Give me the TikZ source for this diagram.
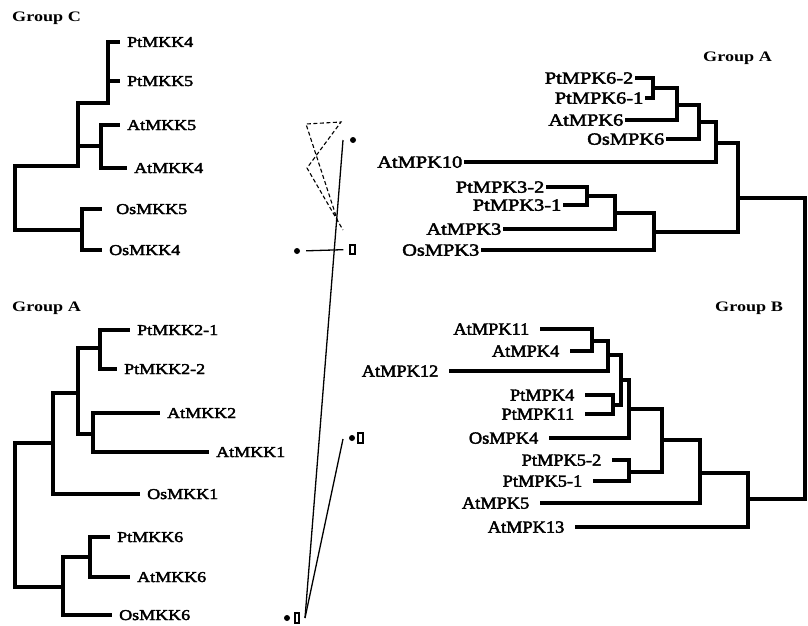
\documentclass[tikz,border=0pt]{standalone}
\usepackage{fontspec}
\setmainfont{Liberation Serif}
\newfontfamily\leaffont[FakeStretch=1.2, FakeBold=2.5]{Liberation Serif}
\newfontfamily\narrowfont[FakeStretch=1.08, FakeBold=2.5]{Liberation Serif}
\newfontfamily\groupfont[FakeStretch=1.25]{Liberation Serif}
\usetikzlibrary{positioning}

\tikzset{
  branch/.style = {draw, line width=3.2pt, line cap=rect},
  leafl/.style  = {anchor=west, inner xsep=9pt, inner ysep=0pt, text height=10pt, text depth=0pt,
                   font=\leaffont\fontsize{15}{15}\selectfont},
  leafr/.style  = {anchor=east, inner xsep=3.5pt, inner ysep=0pt, text height=11.3pt, text depth=0pt,
                   font=\leaffont\fontsize{17}{17}\selectfont},
  leafb/.style  = {anchor=east, inner xsep=12.5pt, inner ysep=0pt, text height=11.3pt, text depth=0pt,
                   font=\narrowfont\fontsize{17}{17}\selectfont},
  grp/.style    = {anchor=west, inner sep=0pt, font=\groupfont\bfseries\fontsize{14.5}{14.5}\selectfont},
  dot/.style    = {circle, fill, inner sep=0pt, minimum size=6pt},
  pbox/.style   = {draw, line width=1.9pt, inner sep=0pt, minimum width=4.5pt, minimum height=9.5pt},
  link/.style   = {line width=1.3pt}
}

\begin{document}
\begin{tikzpicture}[x=1pt, y=-1pt]
    \useasboundingbox (0,0) rectangle (808,626);

    \node (grpC) [grp] at (12,18) {Group C};
    \node (grpAl) [grp] at (12,308) {Group A};
    \node (grpAr) [grp] at (703,58) {Group A};
    \node (grpB) [grp] at (715,308) {Group B};

    \coordinate (cC0) at (15,166);
    \coordinate (cC1) at (78,103);
    \coordinate (cC2) at (108,64);
    \coordinate (cC3) at (101,146);
    \coordinate (cC4) at (82,230);
    \node (PtMKK4) [leafl] at (118,42) {PtMKK4};
    \node (PtMKK5) [leafl] at (118,81) {PtMKK5};
    \node (AtMKK5) [leafl] at (118,125) {AtMKK5};
    \node (AtMKK4) [leafl] at (125,168) {AtMKK4};
    \node (OsMKK5) [leafl, inner xsep=16pt] at (100,209) {OsMKK5};
    \node (OsMKK4) [leafl] at (100,250) {OsMKK4};

    \path[branch]
     (cC1) |- (cC0) |- (cC4)
     (cC2) |- (cC1) |- (cC3)
     (PtMKK4.west) -| (cC2) |- (PtMKK5.west)
     (AtMKK5.west) -| (cC3) |- (AtMKK4.west)
     (OsMKK5.west) -| (cC4) |- (OsMKK4.west);

    \coordinate (cA0) at (15,515);
    \coordinate (cA1) at (53,443);
    \coordinate (cA2) at (78,393);
    \coordinate (cA3) at (100,348);
    \coordinate (cA4) at (93,434);
    \coordinate (cA6) at (63,587);
    \coordinate (cA7) at (90,557);
    \node (PtMKK21) [leafl] at (128,330) {PtMKK2-1};
    \node (PtMKK22) [leafl] at (115,369) {PtMKK2-2};
    \node (AtMKK2) [leafl] at (158,413) {AtMKK2};
    \node (AtMKK1) [leafl] at (207,452) {AtMKK1};
    \node (OsMKK1) [leafl] at (138,494) {OsMKK1};
    \node (PtMKK6) [leafl] at (108,537) {PtMKK6};
    \node (AtMKK6) [leafl] at (128,577) {AtMKK6};
    \node (OsMKK6) [leafl] at (110,615) {OsMKK6};

    \path[branch]
     (cA1) -| (cA0) |- (cA6)
     (cA2) -| (cA1) |- (OsMKK1.west)
     (cA3) -| (cA2) |- (cA4)
     (PtMKK21.west) -| (cA3) |- (PtMKK22.west)
     (AtMKK2.west) -| (cA4) |- (AtMKK1.west)
     (cA7) -| (cA6) |- (OsMKK6.west)
     (PtMKK6.west) -| (cA7) |- (AtMKK6.west);

    \coordinate (R) at (805,348);
    \coordinate (gA) at (738,198);
    \coordinate (g1) at (716,143);
    \coordinate (g2) at (699,122);
    \coordinate (g3) at (677,105);
    \coordinate (g4) at (653,88);
    \coordinate (g6) at (654,232);
    \coordinate (g7) at (615,213);
    \coordinate (g8) at (587,196);
    \node (PtMPK62) [leafr] at (637,78) {PtMPK6-2};
    \node (PtMPK61) [leafr] at (647,98) {PtMPK6-1};
    \node (AtMPK6) [leafr] at (627,120) {AtMPK6};
    \node (OsMPK6) [leafr] at (668,139) {OsMPK6};
    \node (AtMPK10) [leafr] at (466,162) {AtMPK10};
    \node (PtMPK32) [leafr] at (548,187) {PtMPK3-2};
    \node (PtMPK31) [leafr] at (565,205) {PtMPK3-1};
    \node (AtMPK3) [leafr] at (505,229) {AtMPK3};
    \node (OsMPK3) [leafr] at (483,250) {OsMPK3};

    \coordinate (gB) at (748,499);
    \coordinate (b1) at (700,473);
    \coordinate (b2) at (662,440);
    \coordinate (b3) at (629,409);
    \coordinate (b4) at (621,380);
    \coordinate (b5) at (608,355);
    \coordinate (b6) at (613,405);
    \coordinate (b7) at (629,472);
    \coordinate (b8) at (592,341);
    \node (AtMPK11) [leafb] at (542,329) {AtMPK11};
    \node (AtMPK4) [leafb] at (572,351) {AtMPK4};
    \node (AtMPK12) [leafb] at (451,371) {AtMPK12};
    \node (PtMPK4) [leafb] at (587,395) {PtMPK4};
    \node (PtMPK11) [leafb] at (587,414) {PtMPK11};
    \node (OsMPK4) [leafb] at (551,438) {OsMPK4};
    \node (PtMPK52) [leafb] at (614,460) {PtMPK5-2};
    \node (PtMPK51) [leafb] at (595,481) {PtMPK5-1};
    \node (AtMPK5) [leafb] at (542,503) {AtMPK5};
    \node (AtMPK13) [leafb] at (577,527) {AtMPK13};

    \path[branch]
     (gA) -| (R) |- (gB)
     (g1) -| (gA) |- (g6)
     (g2) -| (g1) |- (AtMPK10.east)
     (g3) -| (g2) |- (OsMPK6.east)
     (g4) -| (g3) |- (AtMPK6.east)
     (PtMPK62.east) -| (g4) |- (PtMPK61.east)
     (g7) -| (g6) |- (OsMPK3.east)
     (g8) -| (g7) |- (AtMPK3.east)
     (PtMPK32.east) -| (g8) |- (PtMPK31.east)
     (b1) -| (gB) |- (AtMPK13.east)
     (b2) -| (b1) |- (AtMPK5.east)
     (b3) -| (b2) |- (b7)
     (PtMPK52.east) -| (b7) |- (PtMPK51.east)
     (b4) -| (b3) |- (OsMPK4.east)
     (b5) -| (b4) |- (b6)
     (b8) -| (b5) |- (AtMPK12.east)
     (AtMPK11.east) -| (b8) |- (AtMPK4.east)
     (PtMPK4.east) -| (b6) |- (PtMPK11.east);

    \node (d1) [dot] at (353,140) {};
    \node (d2) [dot] at (297,251) {};
    \node (x2) [pbox] at (352.5,249.5) {};
    \node (d3) [dot] at (352,438) {};
    \node (x3) [pbox, right=2pt of d3] {};
    \node (d4) [dot] at (287,618) {};
    \node (x4) [pbox, right=3.5pt of d4] {};
    \coordinate (tA) at (343,140);
    \coordinate (tB) at (343,439);
    \coordinate (e1) at (305,618);
    \coordinate (p1) at (338,222);
    \coordinate (p2) at (306,124);
    \coordinate (p3) at (341,122);
    \coordinate (p4) at (307,168);
    \coordinate (p5) at (343,230);

    \draw[link] (tA) -- (e1);
    \draw[link] (tB) -- (e1);
    \draw[link, shorten <=6pt, shorten >=6pt] (d2.east) -- (x2.west);
    \draw[link, dash pattern=on 4pt off 2.5pt, line width=1.1pt] (p1) -- (p2) -- (p3) -- (p4) -- (p5);
\end{tikzpicture}
\end{document}
